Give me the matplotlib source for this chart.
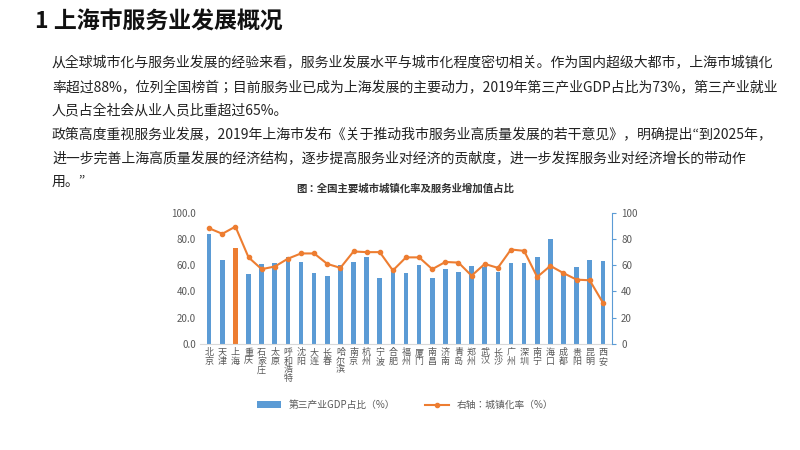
import matplotlib.pyplot as plt
import numpy as np

plt.rcParams['font.family'] = ['Noto Sans CJK JP', 'DejaVu Sans']

cities = ['北京', '天津', '上海', '重庆', '石家庄', '太原', '呼和浩特', '沈阳', '大连', '长春',
          '哈尔滨', '南京', '杭州', '宁波', '合肥', '福州', '厦门', '南昌', '济南', '青岛',
          '郑州', '武汉', '长沙', '广州', '深圳', '南宁', '海口', '成都', '贵阳', '昆明', '西安']
tertiary_share = [84, 64, 73, 53, 61, 61.5, 66, 62.5, 54, 52,
                  60, 62.5, 66.5, 50, 58, 54, 60, 50, 57, 55,
                  59.5, 59, 55, 62, 62, 66.5, 80, 55, 59, 64, 63]
urbanization = [88.2, 84, 89.5, 66, 57, 59, 65, 69, 69, 61,
                58, 70.5, 70, 70, 56, 66, 66, 57, 62.5, 62,
                52, 61, 58, 72, 71, 51, 59.5, 54, 49, 48.5, 31.5]

paragraph = [
    "从全球城市化与服务业发展的经验来看，服务业发展水平与城市化程度密切相关。作为国内超级大都市，上海市城镇化",
    "率超过88%，位列全国榜首；目前服务业已成为上海发展的主要动力，2019年第三产业GDP占比为73%，第三产业就业",
    "人员占全社会从业人员比重超过65%。",
    "政策高度重视服务业发展，2019年上海市发布《关于推动我市服务业高质量发展的若干意见》，明确提出“到2025年，",
    "进一步完善上海高质量发展的经济结构，逐步提高服务业对经济的贡献度，进一步发挥服务业对经济增长的带动作",
    "用。”",
]
line_y = [62, 87, 110, 134, 158, 182]

blue = '#5b9bd5'
orange = '#ed7d31'

fig = plt.figure(figsize=(8, 4.5), dpi=100)
fig.text(35 / 800, 1 - 22 / 450, "1 上海市服务业发展概况", fontsize=16.5, fontweight='bold',
         va='center', ha='left', color='#111111')
for txt, y in zip(paragraph, line_y):
    fig.text(52 / 800, 1 - y / 450, txt, fontsize=10, va='center', ha='left', color='#222222')
fig.text(405 / 800, 1 - 189 / 450, "图：全国主要城市城镇化率及服务业增加值占比", fontsize=7.5,
         fontweight='bold', va='center', ha='center', color='#333333')

ax = fig.add_axes([0.25, 0.236, 0.515, 0.291])
x = np.arange(len(cities))
colors = [orange if c == '上海' else blue for c in cities]
ax.bar(x, tertiary_share, width=0.35, color=colors, label='第三产业GDP占比（%）', zorder=2)
ax.set_ylim(0, 100)
ax.set_xlim(-0.7, len(cities) - 0.3)
ax.set_yticks(np.arange(0, 101, 20))
ax.set_yticklabels([f'{v:.1f}' for v in range(0, 101, 20)], fontsize=7, color='#595959')
ax.set_xticks(x)
ax.set_xticklabels(['\n'.join(c) for c in cities], fontsize=6.5, color='#595959', linespacing=0.95)
ax.tick_params(axis='both', length=0, pad=3)
for s in ['top', 'right', 'left']:
    ax.spines[s].set_visible(False)
ax.spines['bottom'].set_color('#d9d9d9')

ax2 = ax.twinx()
ax2.plot(x, urbanization, color=orange, marker='o', markersize=3, linewidth=1.5,
         label='右轴：城镇化率（%）', zorder=3)
ax2.set_ylim(0, 100)
ax2.set_yticks(np.arange(0, 101, 20))
ax2.tick_params(axis='y', labelsize=7, labelcolor='#595959', color=blue, length=3)
for s in ['top', 'left', 'bottom']:
    ax2.spines[s].set_visible(False)
ax2.spines['right'].set_color(blue)

h1, l1 = ax.get_legend_handles_labels()
h2, l2 = ax2.get_legend_handles_labels()
fig.legend(h1 + h2, l1 + l2, loc='center', bbox_to_anchor=(405 / 800, 1 - 405 / 450), ncol=2,
           frameon=False, fontsize=7, labelcolor='#595959', handlelength=2.5, columnspacing=3)

fig.savefig('out.png', dpi=100, facecolor='white')
